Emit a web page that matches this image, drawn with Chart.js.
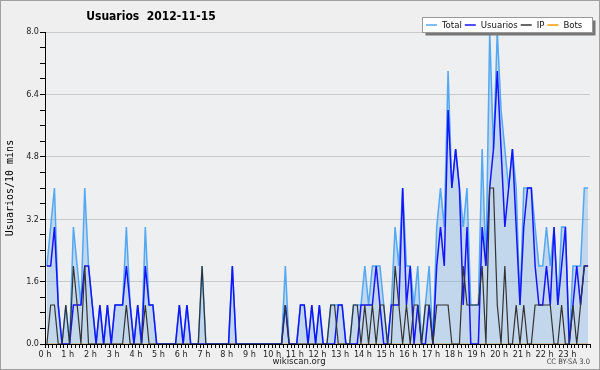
<!DOCTYPE html>
<html>
<head>
<meta charset="utf-8">
<script src="https://cdn.jsdelivr.net/npm/chart.js@4.4.0/dist/chart.umd.min.js"></script>
<style>
html, body { margin: 0; padding: 0; background: #efefef; }
canvas { display: block; }
</style>
</head>
<body>
<canvas id="chart" width="600" height="370"></canvas>
<script>
// un valor cada 10 minutos, 144 intervalos del dia
const total = [
  2, 3, 4, 1, 0, 1, 0, 3, 2, 1, 4, 2, 1, 0, 1, 0, 1, 0, 1, 1, 1, 3, 1, 0,
  1, 0, 3, 1, 1, 0, 0, 0, 0, 0, 0, 1, 0, 1, 0, 0, 0, 2, 0, 0, 0, 0, 0, 0,
  0, 2, 0, 0, 0, 0, 0, 0, 0, 0, 0, 0, 0, 0, 0, 2, 0, 0, 0, 1, 1, 0, 1, 0,
  1, 0, 0, 1, 1, 1, 1, 0, 0, 1, 1, 1, 2, 1, 2, 2, 2, 1, 0, 1, 3, 2, 4, 2,
  2, 1, 2, 0, 1, 2, 0, 3, 4, 3, 7, 4, 5, 4, 3, 4, 1, 1, 1, 5, 2, 8, 5, 8,
  6, 5, 4, 5, 4, 1, 4, 4, 4, 3, 2, 2, 3, 2, 3, 1, 3, 3, 0, 2, 2, 2, 4, 4
];
const usuarios = [
  2, 2, 3, 1, 0, 0, 0, 1, 1, 1, 2, 2, 1, 0, 1, 0, 1, 0, 1, 1, 1, 2, 1, 0,
  1, 0, 2, 1, 1, 0, 0, 0, 0, 0, 0, 1, 0, 1, 0, 0, 0, 0, 0, 0, 0, 0, 0, 0,
  0, 2, 0, 0, 0, 0, 0, 0, 0, 0, 0, 0, 0, 0, 0, 1, 0, 0, 0, 1, 1, 0, 1, 0,
  1, 0, 0, 0, 0, 1, 1, 0, 0, 0, 0, 1, 1, 1, 1, 2, 1, 0, 0, 1, 1, 1, 4, 1,
  2, 0, 1, 0, 0, 1, 0, 2, 3, 2, 6, 4, 5, 4, 1, 3, 0, 0, 0, 3, 2, 4, 5, 7,
  5, 3, 4, 5, 3, 1, 3, 4, 4, 2, 1, 1, 2, 1, 3, 1, 2, 3, 0, 1, 2, 1, 2, 2
];
const ip = [
  0, 1, 1, 0, 0, 1, 0, 2, 1, 0, 2, 0, 0, 0, 0, 0, 0, 0, 0, 0, 0, 1, 0, 0,
  0, 0, 1, 0, 0, 0, 0, 0, 0, 0, 0, 0, 0, 0, 0, 0, 0, 2, 0, 0, 0, 0, 0, 0,
  0, 0, 0, 0, 0, 0, 0, 0, 0, 0, 0, 0, 0, 0, 0, 1, 0, 0, 0, 0, 0, 0, 0, 0,
  0, 0, 0, 1, 1, 0, 0, 0, 0, 1, 1, 0, 1, 0, 1, 0, 1, 1, 0, 0, 2, 1, 0, 1,
  0, 1, 1, 0, 1, 1, 0, 1, 1, 1, 1, 0, 0, 0, 2, 1, 1, 1, 1, 2, 0, 4, 4, 1,
  0, 2, 0, 0, 1, 0, 1, 0, 0, 1, 1, 1, 1, 1, 0, 0, 1, 0, 0, 1, 0, 1, 2, 2
];
const bots = [
  0, 0, 0, 0, 0, 0, 0, 0, 0, 0, 0, 0, 0, 0, 0, 0, 0, 0, 0, 0, 0, 0, 0, 0,
  0, 0, 0, 0, 0, 0, 0, 0, 0, 0, 0, 0, 0, 0, 0, 0, 0, 0, 0, 0, 0, 0, 0, 0,
  0, 0, 0, 0, 0, 0, 0, 0, 0, 0, 0, 0, 0, 0, 0, 0, 0, 0, 0, 0, 0, 0, 0, 0,
  0, 0, 0, 0, 0, 0, 0, 0, 0, 0, 0, 0, 0, 0, 0, 0, 0, 0, 0, 0, 0, 0, 0, 0,
  0, 0, 0, 0, 0, 0, 0, 0, 0, 0, 0, 0, 0, 0, 0, 0, 0, 0, 0, 0, 0, 0, 0, 0,
  0, 0, 0, 0, 0, 0, 0, 0, 0, 0, 0, 0, 0, 0, 0, 0, 0, 0, 0, 0, 0, 0, 0, 0
];
const hourLabels = ['0 h', '1 h', '2 h', '3 h', '4 h', '5 h', '6 h', '7 h', '8 h', '9 h', '10 h', '11 h',
  '12 h', '13 h', '14 h', '15 h', '16 h', '17 h', '18 h', '19 h', '20 h', '21 h', '22 h', '23 h'];
const yMax = 8;
const yStep = 0.4;
const yLabelStep = 1.6;

const FONT = "'DejaVu Sans Condensed', 'DejaVu Sans', sans-serif";

function toPoints(arr) {
  return arr.map((v, i) => ({ x: i + 0.5, y: v }));
}

function isMajor(v) {
  const r = v / yLabelStep;
  return Math.abs(r - Math.round(r)) < 1e-6;
}

// fondo, titulo, leyenda y textos del pie
const decor = {
  id: 'decor',
  beforeDraw(chart) {
    const { ctx, chartArea: a } = chart;
    ctx.save();
    ctx.fillStyle = '#efefef';
    ctx.fillRect(0, 0, chart.width, chart.height);
    ctx.fillStyle = '#eeeff1';
    ctx.fillRect(a.left, a.top, a.right - a.left, a.bottom - a.top);
    ctx.restore();
  },
  afterDraw(chart) {
    const { ctx, chartArea: a } = chart;
    ctx.save();
    ctx.strokeStyle = '#a0a0a0';
    ctx.lineWidth = 1;
    ctx.strokeRect(0.5, 0.5, chart.width - 1, chart.height - 1);

    ctx.fillStyle = '#000';
    ctx.textAlign = 'center';
    ctx.textBaseline = 'middle';
    ctx.font = 'bold 12px ' + FONT;
    ctx.fillText('Usuarios  2012-11-15', 151, 17);

    ctx.save();
    ctx.translate(10, (a.top + a.bottom) / 2);
    ctx.rotate(-Math.PI / 2);
    ctx.font = "10px 'DejaVu Sans Mono', monospace";
    ctx.fillText('Usuarios/10 mins', 0, 0);
    ctx.restore();

    ctx.font = '9.5px ' + FONT;
    ctx.fillStyle = '#222';
    ctx.fillText('wikiscan.org', 299, 362);
    ctx.font = '7.5px ' + FONT;
    ctx.textAlign = 'right';
    ctx.fillStyle = '#444';
    ctx.fillText('CC BY-SA 3.0', 590, 362);

    // leyenda
    const bx = 422.5, by = 17.5, bw = 170, bh = 15;
    ctx.fillStyle = '#777';
    ctx.fillRect(bx + 3, by + 3, bw, bh);
    ctx.fillStyle = '#fff';
    ctx.fillRect(bx, by, bw, bh);
    ctx.strokeStyle = '#999';
    ctx.strokeRect(bx, by, bw, bh);
    ctx.font = '9.5px ' + FONT;
    ctx.textAlign = 'left';
    let x = 426;
    const ly = by + bh / 2;
    chart.data.datasets.forEach(ds => {
      ctx.strokeStyle = ds.borderColor;
      ctx.lineWidth = 1.5;
      ctx.beginPath();
      ctx.moveTo(x, ly);
      ctx.lineTo(x + 11, ly);
      ctx.stroke();
      x += 16;
      ctx.fillStyle = '#111';
      ctx.fillText(ds.label, x, ly + 0.5);
      x += ctx.measureText(ds.label).width + 3;
    });
    ctx.restore();
  }
};

new Chart(document.getElementById('chart'), {
  type: 'line',
  data: {
    datasets: [
      { label: 'Total', data: toPoints(total), borderColor: '#52a8f2', backgroundColor: 'rgba(95,160,225,0.3)',
        fill: 'origin', borderWidth: 1.5, order: 4 },
      { label: 'Usuarios', data: toPoints(usuarios), borderColor: '#1414ff', borderWidth: 1.5, fill: false, order: 3 },
      { label: 'IP', data: toPoints(ip), borderColor: '#333333', borderWidth: 1.2, fill: false, order: 2 },
      { label: 'Bots', data: toPoints(bots), borderColor: '#ff9c00', borderWidth: 1, fill: false, order: 5 }
    ]
  },
  options: {
    responsive: false,
    animation: false,
    devicePixelRatio: 1,
    layout: { padding: { left: 0, right: 10, top: 32, bottom: 0 } },
    elements: { point: { radius: 0 }, line: { tension: 0 } },
    plugins: { legend: { display: false }, tooltip: { enabled: false } },
    scales: {
      x: {
        type: 'linear',
        min: 0,
        max: 144,
        z: 1,
        afterFit(scale) { scale.height = 26; },
        grid: { display: true, drawOnChartArea: false, drawTicks: true, tickLength: 4, tickColor: '#000', tickWidth: 1 },
        border: { display: true, color: '#000', width: 1 },
        ticks: {
          stepSize: 1,
          autoSkip: false,
          maxRotation: 0,
          minRotation: 0,
          padding: 1,
          color: '#222',
          font: { family: FONT, size: 9 },
          callback: v => (v % 6 === 0 && v / 6 < hourLabels.length) ? hourLabels[v / 6] : ''
        }
      },
      y: {
        min: 0,
        max: yMax,
        afterFit(scale) { scale.width = 45; },
        grid: {
          color: c => isMajor(c.tick.value) ? '#c9c9c9' : 'rgba(0,0,0,0)',
          tickColor: '#000',
          tickLength: 5,
          lineWidth: 1
        },
        border: { display: true, color: '#000', width: 1 },
        ticks: {
          stepSize: yStep,
          autoSkip: false,
          padding: 1,
          color: '#222',
          font: { family: FONT, size: 9 },
          callback: v => isMajor(v) ? v.toFixed(1) : ''
        }
      }
    }
  },
  plugins: [decor]
});
</script>
</body>
</html>
